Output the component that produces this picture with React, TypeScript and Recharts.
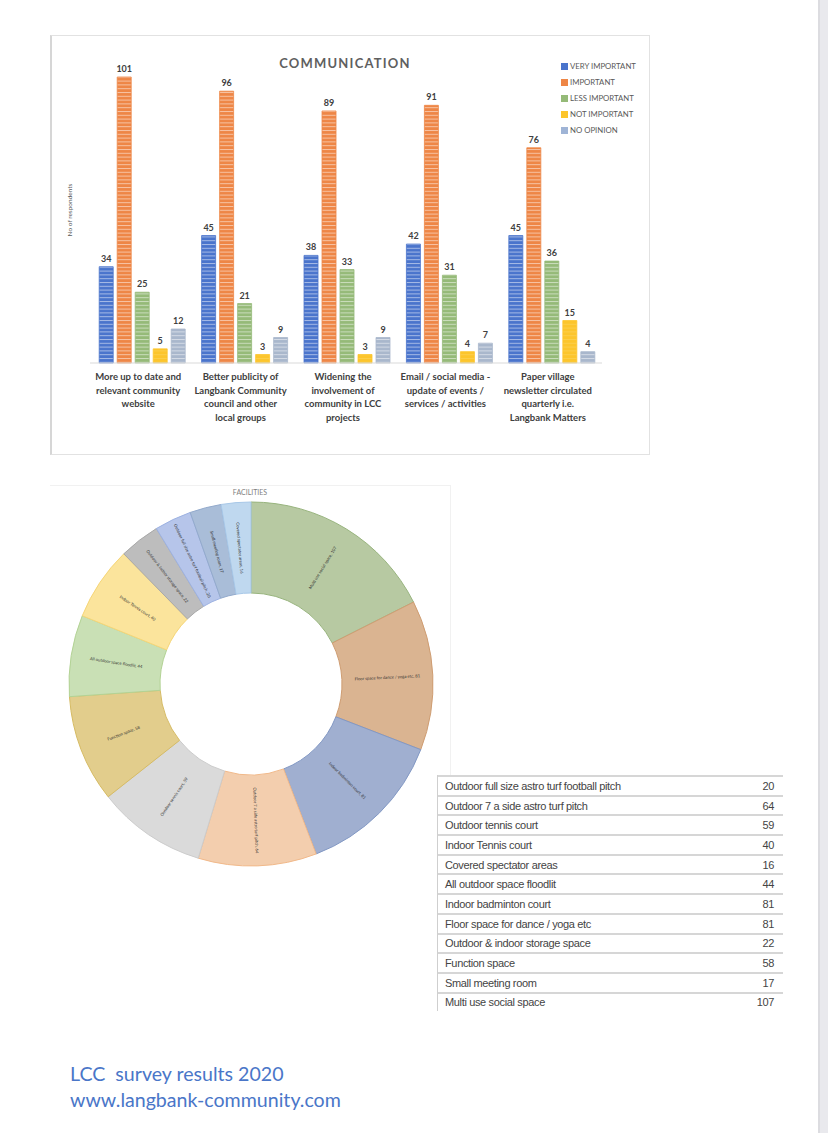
import React from 'react';
import { BarChart, Bar, XAxis, YAxis, LabelList, PieChart, Pie, Cell } from 'recharts';

// ---- Communication (bar chart) ----
const commCategories = [
  'More up to date and\nrelevant community\nwebsite',
  'Better publicity of\nLangbank Community\ncouncil and other\nlocal groups',
  'Widening the\ninvolvement of\ncommunity in LCC\nprojects',
  'Email / social media  -\nupdate of events /\nservices / activities',
  'Paper village\nnewsletter circulated\nquarterly i.e.\nLangbank Matters',
];
const veryImportant = [34, 45, 38, 42, 45];
const important = [101, 96, 89, 91, 76];
const lessImportant = [25, 21, 33, 31, 36];
const notImportant = [5, 3, 3, 4, 15];
const noOpinion = [12, 9, 9, 7, 4];
const seriesNames = ['VERY IMPORTANT', 'IMPORTANT', 'LESS IMPORTANT', 'NOT IMPORTANT', 'NO OPINION'];
const seriesColors = ['#4a74cc', '#ee8646', '#95ba78', '#fcc52c', '#a9b7cc'];
const legendColors = ['#4a74cc', '#ee8646', '#95ba78', '#fcc52c', '#9fb4d6'];

// ---- Facilities (table order) ----
const facilityNames = [
  'Outdoor full size astro turf football pitch',
  'Outdoor 7 a side astro turf pitch',
  'Outdoor tennis court',
  'Indoor Tennis court',
  'Covered spectator areas',
  'All outdoor space floodlit',
  'Indoor badminton court',
  'Floor space for dance / yoga etc',
  'Outdoor & indoor storage space',
  'Function space',
  'Small meeting room',
  'Multi use social space',
];
const facilityCounts = [20, 64, 59, 40, 16, 44, 81, 81, 22, 58, 17, 107];

// donut goes clockwise from 12 o'clock in this order
const donutOrder = [
  'Multi use social space',
  'Floor space for dance / yoga etc',
  'Indoor badminton court',
  'Outdoor 7 a side astro turf pitch',
  'Outdoor tennis court',
  'Function space',
  'All outdoor space floodlit',
  'Indoor Tennis court',
  'Outdoor & indoor storage space',
  'Outdoor full size astro turf football pitch',
  'Small meeting room',
  'Covered spectator areas',
];
const donutFills = ['#b7c9a2', '#dab491', '#a0afd0', '#f3ceae', '#dadada', '#e2cd8c', '#c9e0b5', '#fbe49c', '#bdbdbd', '#b6c5ea', '#a9bdd8', '#bfd8ef'];
const donutStrokes = ['#98b47e', '#cf9d72', '#8298c4', '#f1b98a', '#cccccc', '#d6bb63', '#b3d395', '#f6d678', '#a9a9a9', '#9db2e2', '#93aacc', '#a8c8e8'];

const barData = commCategories.map((c, i) => ({
  name: c,
  v0: veryImportant[i],
  v1: important[i],
  v2: lessImportant[i],
  v3: notImportant[i],
  v4: noOpinion[i],
}));

const donutData = donutOrder.map(n => ({
  name: n,
  value: facilityCounts[facilityNames.indexOf(n)],
}));

const RAD = Math.PI / 180;

function CategoryTick(props: any) {
  const { x, y, payload } = props;
  const lines = String(payload.value).split('\n');
  return (
    <text x={x - 3} y={y + 9} textAnchor="middle" fill="#404040" fontSize={9.5} fontWeight={700} fontFamily="Lato">
      {lines.map((l, i) => (
        <tspan key={i} x={x - 3} dy={i === 0 ? 0 : 13.6}>{l}</tspan>
      ))}
    </text>
  );
}

function DonutLabel(props: any) {
  const { cx, cy, midAngle, innerRadius, outerRadius, payload, value } = props;
  const r = (innerRadius + outerRadius) / 2;
  const x = cx + r * Math.cos(-midAngle * RAD);
  const y = cy + r * Math.sin(-midAngle * RAD);
  let rot = -midAngle;
  if (Math.cos(midAngle * RAD) < -0.01) rot += 180;
  return (
    <text
      x={x}
      y={y}
      textAnchor="middle"
      dominantBaseline="central"
      fontSize={4.2}
      fill="#333"
      fontFamily="Lato"
      transform={`rotate(${rot} ${x} ${y})`}
    >
      {`${payload.name}, ${value}`}
    </text>
  );
}

export default function App() {
  return (
    <div style={{ position: 'absolute', left: 0, top: 0, width: 828, height: 1133, background: '#fff', overflow: 'hidden' }}>
      {/* page edge */}
      <div style={{ position: 'absolute', left: 818, top: 0, width: 10, height: 1133, background: '#e9e9ed', borderLeft: '2px solid #dcdce0', boxSizing: 'border-box' }} />

      {/* ---- bar chart ---- */}
      <div style={{ position: 'absolute', left: 50, top: 35, width: 600, height: 420, border: '1px solid #e2e2e2', borderLeft: '2px solid #d6d6d6', boxSizing: 'border-box' }} />
      <div style={{ position: 'absolute', left: 50, top: 35 }}>
        <BarChart
          width={600}
          height={420}
          data={barData}
          margin={{ top: 42, right: 48, bottom: 0, left: 40 }}
          barCategoryGap="9%"
          barGap={4}
        >
          <defs>
            {seriesColors.map((c, i) => (
              <pattern key={i} id={`stripe${i}`} patternUnits="userSpaceOnUse" width={6} height={3.8}>
                <rect x={0} y={0} width={6} height={3.8} fill={c} />
                <rect x={0} y={0} width={6} height={1} fill="#fff" opacity={i === 3 ? 0.15 : 0.5} />
              </pattern>
            ))}
          </defs>
          <XAxis
            dataKey="name"
            interval={0}
            height={92}
            tickLine={false}
            axisLine={{ stroke: '#d9d9d9' }}
            tick={<CategoryTick />}
          />
          <YAxis hide domain={[0, 101]} />
          {['v0', 'v1', 'v2', 'v3', 'v4'].map((k, i) => (
            <Bar
              key={k}
              dataKey={k}
              name={seriesNames[i]}
              fill={`url(#stripe${i})`}
              stroke={seriesColors[i]}
              strokeWidth={0.8}
              isAnimationActive={false}
            >
              <LabelList
                dataKey={k}
                position="top"
                offset={5}
                style={{ fill: '#404040', fontSize: 9, fontWeight: 700, fontFamily: 'Lato' }}
              />
            </Bar>
          ))}
        </BarChart>
      </div>
      <div style={{ position: 'absolute', left: 245, top: 55, width: 200, textAlign: 'center', fontFamily: 'Lato', fontWeight: 700, fontSize: 13, letterSpacing: 1.2, color: '#5f5f5f' }}>
        COMMUNICATION
      </div>
      <div style={{ position: 'absolute', left: 69, top: 210, transform: 'translate(-50%, -50%) rotate(-90deg)', fontFamily: 'Lato', fontSize: 6.5, color: '#595959', whiteSpace: 'nowrap' }}>
        No of respondents
      </div>
      <div style={{ position: 'absolute', left: 561, top: 58 }}>
        {seriesNames.map((n, i) => (
          <div key={n} style={{ display: 'flex', alignItems: 'center', height: 16, fontFamily: 'Lato', fontSize: 7.8, color: '#595959', whiteSpace: 'nowrap' }}>
            <span style={{ display: 'inline-block', width: 7, height: 7, background: legendColors[i], marginRight: 2 }} />
            {n}
          </div>
        ))}
      </div>

      {/* ---- donut ---- */}
      <div style={{ position: 'absolute', left: 50, top: 485, width: 401, height: 292, borderTop: '1px solid #f1f1f1', borderRight: '1px solid #f1f1f1', boxSizing: 'border-box' }} />
      <div style={{ position: 'absolute', left: 50, top: 485 }}>
        <PieChart width={400} height={400}>
          <Pie
            data={donutData}
            dataKey="value"
            nameKey="name"
            cx={196}
            cy={194}
            innerRadius={91}
            outerRadius={182}
            startAngle={90}
            endAngle={-270}
            label={DonutLabel}
            labelLine={false}
            isAnimationActive={false}
          >
            {donutData.map((d, i) => (
              <Cell key={d.name} fill={donutFills[i]} stroke={donutStrokes[i]} strokeWidth={1} />
            ))}
          </Pie>
        </PieChart>
      </div>
      <div style={{ position: 'absolute', left: 200, top: 488, width: 100, textAlign: 'center', fontFamily: 'Lato', fontSize: 7, color: '#7f7f7f' }}>
        FACILITIES
      </div>

      {/* ---- table ---- */}
      <div style={{ position: 'absolute', left: 437, top: 775, width: 345, borderLeft: '1px solid #cfcfcf', fontFamily: '"Liberation Sans", Arial, sans-serif', fontSize: 11, letterSpacing: -0.35, color: '#444' }}>
        {facilityNames.map((n, i) => (
          <div key={n} style={{ display: 'flex', justifyContent: 'space-between', alignItems: 'center', height: 19.7, borderTop: '2px solid #d6d6d6', boxSizing: 'border-box', padding: '0 9px 0 7px' }}>
            <span>{n}</span>
            <span>{facilityCounts[i]}</span>
          </div>
        ))}
      </div>

      {/* ---- footer ---- */}
      <div style={{ position: 'absolute', left: 70, top: 1061, fontFamily: 'Lato', fontSize: 19.6, lineHeight: '26px', color: '#4a76c8', whiteSpace: 'pre' }}>
        {'LCC  survey results 2020\nwww.langbank-community.com'}
      </div>
    </div>
  );
}
